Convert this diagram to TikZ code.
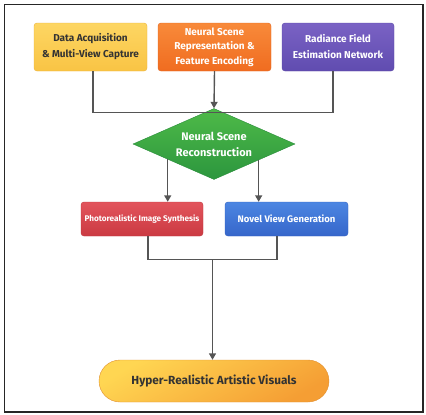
\documentclass[tikz,border=0pt]{standalone}
\usepackage{fontspec}
\setmainfont{Fira Sans}
\usetikzlibrary{shapes.geometric,arrows.meta,calc}
\definecolor{lineg}{HTML}{555555}
\definecolor{txtd}{HTML}{333333}
\begin{document}
\begin{tikzpicture}[x=1pt,y=-1pt,
  box/.style={rectangle,rounded corners=3pt,inner sep=0pt,align=center,font=\bfseries\fontsize{10}{16}\selectfont},
  conn/.style={draw=lineg,line width=1.4pt},
  arr/.style={conn,-{Triangle[length=6.5pt,width=7pt]}}]
\useasboundingbox (0,0) rectangle (426,415);
\draw[line width=1.6pt,draw=black!85] (4.5,4.5) rectangle (423,412);
% top row
\node[box,minimum width=113pt,minimum height=48pt,top color={rgb,255:red,253;green,214;blue,99},bottom color={rgb,255:red,249;green,196;blue,68},draw={rgb,255:red,235;green,178;blue,60},text=txtd] (acq) at (90.5,47) {Data Acquisition\\\& Multi-View Capture};
\node[box,minimum width=113pt,minimum height=48pt,font=\bfseries\fontsize{10}{14.5}\selectfont,top color={rgb,255:red,248;green,138;blue,58},bottom color={rgb,255:red,240;green,108;blue,32},draw={rgb,255:red,225;green,100;blue,30},text=white] (rep) at (214.5,47) {Neural Scene\\Representation \&\\Feature Encoding};
\node[box,minimum width=112pt,minimum height=48pt,top color={rgb,255:red,122;green,98;blue,196},bottom color={rgb,255:red,96;green,76;blue,176},draw={rgb,255:red,90;green,72;blue,165},text=white] (rad) at (338,47) {Radiance Field\\Estimation Network};
% diamond
\node[diamond,aspect=2.27,inner sep=0pt,minimum width=162pt,minimum height=71pt,align=center,font=\bfseries\fontsize{11}{16}\selectfont,text=white,top color={rgb,255:red,78;green,186;blue,72},bottom color={rgb,255:red,44;green,150;blue,62},draw={rgb,255:red,40;green,140;blue,58}] (dia) at (214,144) {Neural Scene\\Reconstruction};
% middle row
\node[box,minimum width=122pt,minimum height=34pt,font=\bfseries\fontsize{8.2}{10}\selectfont,text=white,top color={rgb,255:red,226;green,84;blue,92},bottom color={rgb,255:red,203;green,58;blue,66},draw={rgb,255:red,190;green,55;blue,62}] (pho) at (142,219) {Photorealistic Image Synthesis};
\node[box,minimum width=123pt,minimum height=34pt,font=\bfseries\fontsize{9.5}{10}\selectfont,text=white,top color={rgb,255:red,76;green,134;blue,226},bottom color={rgb,255:red,54;green,102;blue,202},draw={rgb,255:red,50;green,95;blue,190}] (nov) at (286.5,219) {Novel View Generation};
% pill
\node[rectangle,rounded corners=21pt,inner sep=0pt,minimum width=230pt,minimum height=42pt,font=\bfseries\fontsize{11.8}{12}\selectfont,text=txtd,shading=axis,top color={rgb,255:red,255;green,214;blue,82},bottom color={rgb,255:red,245;green,158;blue,52},shading angle=30,draw={rgb,255:red,225;green,145;blue,50}] (pil) at (214,381) {Hyper-Realistic Artistic Visuals};
% connectors top
\coordinate (jl) at ($(acq.south)+(2.5,41)$);
\coordinate (jr) at ($(rad.south)+(-5,41)$);
\draw[conn] ([xshift=2.5pt]acq.south) -- (jl) -- (jr) -- ([xshift=-5pt]rad.south);
\draw[arr] (rep.south) -- (dia.north);
% diamond to middle
\coordinate (dl) at ($(dia.west)!0.43!(dia.south)$);
\coordinate (dr) at ($(dia.east)!0.45!(dia.south)$);
\draw[arr] (dl) -- (dl |- pho.north);
\draw[arr] (dr) -- (dr |- nov.north);
% bottom connectors
\coordinate (bl) at ($(pho.south)+(6,23)$);
\coordinate (br) at ($(nov.south)+(-9.5,23)$);
\coordinate (bm) at ($(bl)!0.5!(br)$);
\draw[conn] ([xshift=6pt]pho.south) -- (bl) -- (br) -- ([xshift=-9.5pt]nov.south);
\draw[arr] (bm) -- (bm |- pil.north);
\end{tikzpicture}
\end{document}
